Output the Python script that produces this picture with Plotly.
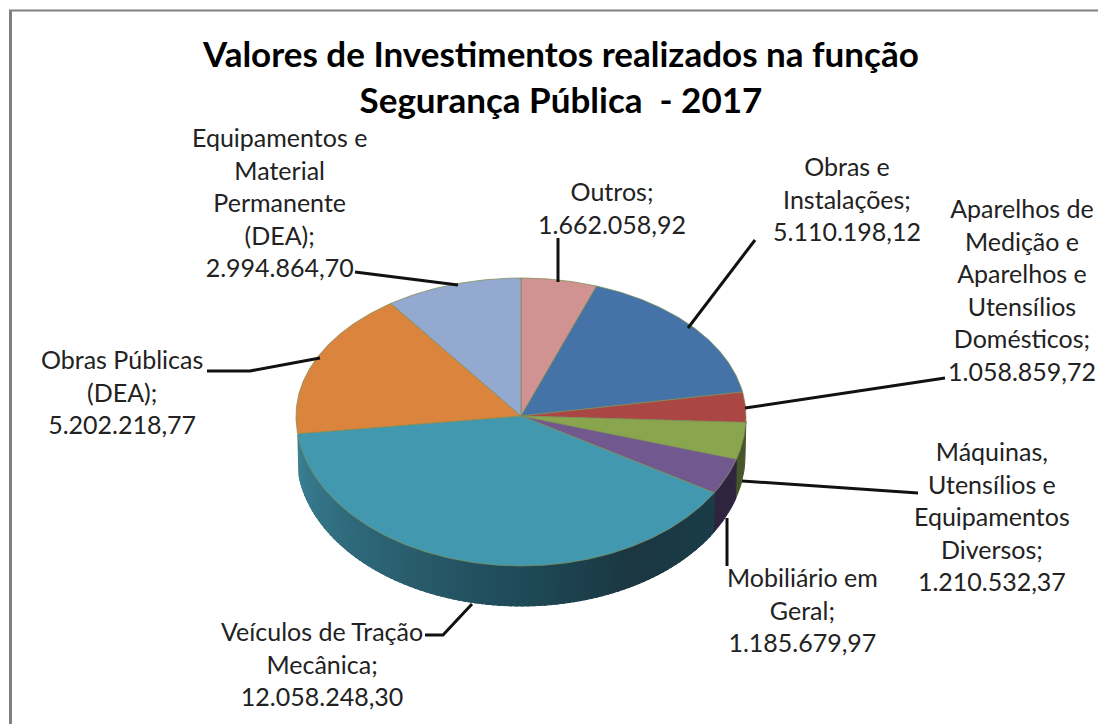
import numpy as np
import plotly.graph_objects as go

categories = ["Outros", "Obras e Instalações", "Aparelhos de Medição e Aparelhos e Utensílios Domésticos",
              "Máquinas, Utensílios e Equipamentos Diversos", "Mobiliário em Geral",
              "Veículos de Tração Mecânica", "Obras Públicas (DEA)", "Equipamentos e Material Permanente (DEA)"]
values = [1662058.92, 5110198.12, 1058859.72, 1210532.37, 1185679.97, 12058248.30, 5202218.77, 2994864.70]
value_labels = ["1.662.058,92", "5.110.198,12", "1.058.859,72", "1.210.532,37", "1.185.679,97",
                "12.058.248,30", "5.202.218,77", "2.994.864,70"]
label_lines = [["Outros;"], ["Obras e", "Instalações;"],
               ["Aparelhos de", "Medição e", "Aparelhos e", "Utensílios", "Domésticos;"],
               ["Máquinas,", "Utensílios e", "Equipamentos", "Diversos;"], ["Mobiliário em", "Geral;"],
               ["Veículos de Tração", "Mecânica;"], ["Obras Públicas", "(DEA);"],
               ["Equipamentos e", "Material", "Permanente", "(DEA);"]]
top_colors = ["#d19392", "#4573a7", "#aa4644", "#89a54e", "#71588f", "#4198af", "#db843d", "#93a9cf"]
wall_colors = ["#6d4a49", "#23395a", "#552322", "#46552a", "#2e2440", "#1b3d4a", "#6e421e", "#4a5467"]

# layout constants (pixels)
CX, CY, RX, RY_UP, RY_DOWN, DEPTH = 521, 416, 225, 138, 150, 40
label_pos = [(612, 207), (847, 198), (1022, 289), (992, 516), (802, 609), (322, 663), (122, 391), (279, 202)]
leaders = [
    ([558, 558], [238, 282]), ([755, 688], [240, 328]), ([945, 745], [378, 408]),
    ([918, 742], [493, 481]), ([727, 727], [518, 566]), ([425, 443, 472], [635, 635, 604]),
    ([207, 250, 320], [371, 371, 358]), ([355, 458], [272, 285]),
]


def pt(t, dy=0.0, rx=RX):
    r = np.radians(t)
    c = np.cos(r)
    ry = np.where(c > 0, RY_UP, RY_DOWN)
    return CX + rx * np.sin(r), CY - ry * c + dy


def lerp_hex(stops, t):
    ts = [s[0] for s in stops]
    rgb = [np.interp(t, ts, [int(s[1][i:i + 2], 16) for s in stops]) for i in (1, 3, 5)]
    return "rgb(%d,%d,%d)" % tuple(rgb)


teal_stops = [(120, "#1b3d4a"), (150, "#1a3742"), (180, "#1f4a58"), (205, "#285a6a"),
              (240, "#337284"), (265, "#3c8297")]

edges = np.concatenate([[0], np.cumsum(values)]) / sum(values) * 360
fig = go.Figure()


def poly(x, y, fill, line=None, width=0):
    fig.add_trace(go.Scatter(x=x, y=y, mode="lines", fill="toself", fillcolor=fill,
                             line=dict(color=line or fill, width=width or 1),
                             hoverinfo="skip", showlegend=False))


def wall(t0, t1, color):
    ts = np.linspace(t0, t1, max(2, int(abs(t1 - t0)) + 2))
    xa, ya = pt(ts)
    xb, yb = pt(ts[::-1], DEPTH, RX - 1)
    poly(np.r_[xa, xb, xa[0]], np.r_[ya, yb, ya[0]], color)


# side wall: only the part that faces the viewer
wall(92, edges[4], wall_colors[3])
wall(edges[4], edges[5], wall_colors[4])
bands = np.arange(edges[5], edges[6] + 0.01, 1.5)
for a, b in zip(bands[:-1], bands[1:]):
    wall(a, min(b + 0.8, edges[6]), lerp_hex(teal_stops, (a + b) / 2))

# top face
for i in range(len(values)):
    ts = np.linspace(edges[i], edges[i + 1], int(edges[i + 1] - edges[i]) * 2 + 3)
    xs, ys = pt(ts)
    poly(np.r_[CX, xs, CX], np.r_[CY, ys, CY], top_colors[i], "rgba(125,140,85,0.75)", 1)

# leader lines
for lx, ly in leaders:
    fig.add_trace(go.Scatter(x=lx, y=ly, mode="lines", line=dict(color="#111111", width=3),
                             hoverinfo="skip", showlegend=False))

# data labels
for lines, val, (x, y) in zip(label_lines, value_labels, label_pos):
    fig.add_annotation(x=x, y=y, xref="x", yref="y", text="<br>".join(lines + [val]), showarrow=False,
                       align="center", xanchor="center", yanchor="middle",
                       font=dict(family="Lato", size=25, color="#222222"))

fig.add_annotation(x=560, y=76, xref="x", yref="y", showarrow=False, align="center",
                   text="<b>Valores de Investimentos realizados na função<br>Segurança Pública  - 2017</b>",
                   font=dict(family="Lato", size=35, color="#000000"))

fig.update_layout(
    width=1098, height=724, margin=dict(l=0, r=0, t=0, b=0),
    paper_bgcolor="white", plot_bgcolor="white", showlegend=False,
    xaxis=dict(range=[0, 1098], visible=False, fixedrange=True),
    yaxis=dict(range=[724, 0], visible=False, fixedrange=True),
    shapes=[
        dict(type="line", xref="x", yref="y", x0=9, x1=1098, y0=10.5, y1=10.5, line=dict(color="#808080", width=2)),
        dict(type="line", xref="x", yref="y", x0=10.5, x1=10.5, y0=10, y1=724, line=dict(color="#808080", width=3)),
    ],
)
fig.write_html("out.html", config={"displayModeBar": False},
               post_script="document.body.style.margin='0';document.documentElement.style.overflow='hidden';")
